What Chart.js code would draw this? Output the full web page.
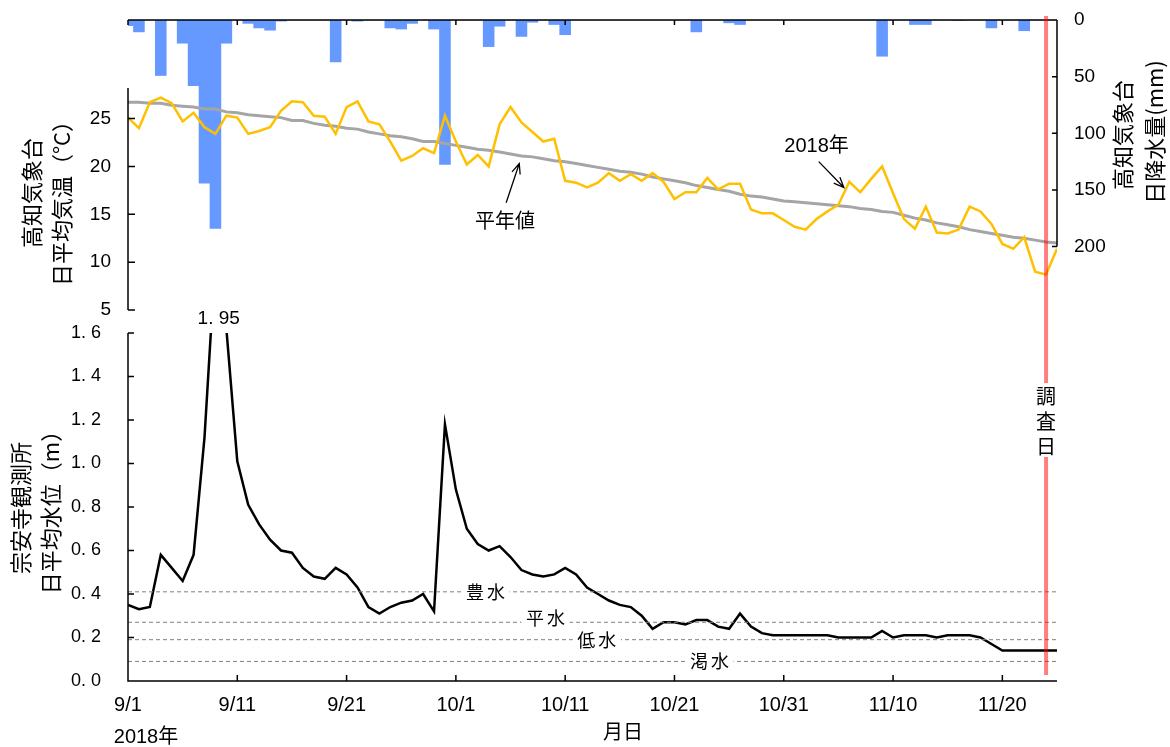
<!DOCTYPE html>
<html>
<head>
<meta charset="utf-8">
<script src="https://cdn.jsdelivr.net/npm/chart.js@4"></script>
<style>
  body { margin: 0; background: #fff; }
  #wrap { position: relative; width: 1170px; height: 747px; }
  canvas { position: absolute; left: 0; top: 0; }
</style>
</head>
<body>
<div id="wrap">
  <canvas id="upper" width="1170" height="747"></canvas>
  <canvas id="lower" width="1170" height="747"></canvas>
</div>
<script>
// 2018/9/1 = 0 ... 11/25 = 85
const tickLabels = ['9/1', '9/11', '9/21', '10/1', '10/11', '10/21', '10/31', '11/10', '11/20'];

// 高知気象台 日降水量 (mm)
const rain = [
  5, 10.5, 0, 49, 0, 20.5, 58, 144, 184, 20.5,
  0, 3, 7, 9, 1, 0, 0, 0, 0, 37,
  0, 1, 0, 0, 7, 8, 3, 0, 8, 127.5,
  0, 0, 0, 23.5, 5.5, 0, 14.5, 2, 0, 4,
  13, 0, 0, 0, 0, 0, 0, 0, 0, 0,
  0, 0, 10.5, 0, 0, 2.5, 4, 0, 0, 0,
  0, 0, 0, 0, 0, 0, 0, 0, 0, 32,
  0, 0, 4, 4, 0, 0, 0.5, 0, 0, 7,
  0, 0, 9.5, 0, 0, 0
];

// 高知気象台 日平均気温 2018年 (°C)
const temp2018 = [
  25.1, 24.0, 26.7, 27.2, 26.6, 24.7, 25.6, 24.1, 23.4, 25.3,
  25.1, 23.4, 23.7, 24.1, 25.8, 26.8, 26.7, 25.3, 25.2, 23.4,
  26.2, 26.8, 24.7, 24.4, 22.6, 20.6, 21.1, 21.9, 21.4, 25.3,
  22.6, 20.2, 21.2, 20.0, 24.4, 26.2, 24.6, 23.6, 22.6, 22.9,
  18.5, 18.3, 17.8, 18.3, 19.3, 18.5, 19.2, 18.5, 19.3, 18.4,
  16.6, 17.3, 17.3, 18.8, 17.6, 18.2, 18.2, 15.5, 15.1, 15.1,
  14.4, 13.7, 13.4, 14.5, 15.3, 16.0, 18.4, 17.3, 18.7, 20.0,
  17.2, 14.5, 13.5, 15.8, 13.1, 13.0, 13.4, 15.8, 15.3, 14.0,
  11.9, 11.4, 12.6, 9.0, 8.7, 11.4
];

// 平年値 (°C)
const tempNormal = [
  26.7, 26.7, 26.6, 26.6, 26.4, 26.3, 26.2, 26.0, 26.0, 25.7,
  25.6, 25.4, 25.3, 25.2, 25.1, 24.8, 24.8, 24.5, 24.3, 24.2,
  24.0, 23.9, 23.6, 23.4, 23.2, 23.1, 22.9, 22.6, 22.6, 22.4,
  22.2, 22.0, 21.8, 21.7, 21.5, 21.3, 21.1, 21.0, 20.8, 20.6,
  20.5, 20.3, 20.1, 19.9, 19.7, 19.5, 19.4, 19.2, 18.9, 18.7,
  18.5, 18.3, 18.0, 17.8, 17.6, 17.4, 17.1, 16.9, 16.8, 16.6,
  16.4, 16.3, 16.2, 16.1, 16.0, 15.9, 15.8, 15.6, 15.5, 15.3,
  15.2, 14.9, 14.6, 14.4, 14.1, 13.9, 13.7, 13.4, 13.2, 13.0,
  12.8, 12.6, 12.5, 12.3, 12.1, 12.0
];

// 宗安寺観測所 日平均水位 (m)
const waterLevel = [
  0.35, 0.33, 0.34, 0.58, 0.52, 0.46, 0.58, 1.12, 1.95, 1.62,
  1.01, 0.81, 0.72, 0.65, 0.60, 0.59, 0.52, 0.48, 0.47, 0.52,
  0.49, 0.43, 0.34, 0.31, 0.34, 0.36, 0.37, 0.40, 0.32, 1.18,
  0.88, 0.70, 0.63, 0.60, 0.62, 0.57, 0.51, 0.49, 0.48, 0.49,
  0.52, 0.49, 0.43, 0.40, 0.37, 0.35, 0.34, 0.30, 0.24, 0.27,
  0.27, 0.26, 0.28, 0.28, 0.25, 0.24, 0.31, 0.25, 0.22, 0.21,
  0.21, 0.21, 0.21, 0.21, 0.21, 0.20, 0.20, 0.20, 0.20, 0.23,
  0.20, 0.21, 0.21, 0.21, 0.20, 0.21, 0.21, 0.21, 0.20, 0.17,
  0.14, 0.14, 0.14, 0.14, 0.14, 0.14
];

const levelNames = ['豊水', '平水', '低水', '渇水'];
const levelValues = [0.41, 0.27, 0.19, 0.09];

const surveyDay = 84; // 11/24
const peakDay = 8;

const NUM = '"Liberation Sans", "Noto Sans CJK JP", sans-serif';
const JP = '"Noto Sans CJK JP", sans-serif';

const toXY = arr => arr.map((v, i) => ({ x: i, y: v }));
const dotted = v => v.replace('.', '. ');

function vText(ctx, text, x, y, font) {
  ctx.save();
  ctx.translate(x, y);
  ctx.rotate(-Math.PI / 2);
  ctx.font = font;
  ctx.fillStyle = '#000';
  ctx.textAlign = 'center';
  ctx.textBaseline = 'middle';
  ctx.fillText(text, 0, 0);
  ctx.restore();
}

function arrow(ctx, x1, y1, x2, y2) {
  const a = Math.atan2(y2 - y1, x2 - x1), h = 11;
  ctx.beginPath();
  ctx.moveTo(x1, y1);
  ctx.lineTo(x2, y2);
  ctx.moveTo(x2 - h * Math.cos(a - 0.4), y2 - h * Math.sin(a - 0.4));
  ctx.lineTo(x2, y2);
  ctx.lineTo(x2 - h * Math.cos(a + 0.4), y2 - h * Math.sin(a + 0.4));
  ctx.stroke();
}

function label(ctx, text, x, y, font) {
  ctx.font = font;
  ctx.fillStyle = '#000';
  ctx.textAlign = 'center';
  ctx.textBaseline = 'middle';
  ctx.fillText(text, x, y);
}

// 上段: 気温と降水量
const upperDecor = {
  id: 'upperDecor',
  afterDraw(chart) {
    const { ctx, chartArea: a, scales: { x, yT, yR } } = chart;
    ctx.save();
    ctx.strokeStyle = '#000';
    ctx.lineWidth = 1.5;
    // top line with ticks
    ctx.beginPath();
    ctx.moveTo(a.left, a.top);
    ctx.lineTo(a.right, a.top);
    for (let d = 0; d <= 80; d += 10) {
      const px = x.getPixelForValue(d);
      ctx.moveTo(px, a.top);
      ctx.lineTo(px, a.top + 5);
    }
    // left temperature axis
    ctx.moveTo(a.left, yT.getPixelForValue(28.2));
    ctx.lineTo(a.left, yT.getPixelForValue(5));
    for (let t = 5; t <= 25; t += 5) {
      const py = yT.getPixelForValue(t);
      ctx.moveTo(a.left, py);
      ctx.lineTo(a.left + 7, py);
    }
    // right rain axis
    ctx.moveTo(a.right, yR.getPixelForValue(0));
    ctx.lineTo(a.right, yR.getPixelForValue(200));
    for (let r = 0; r <= 200; r += 50) {
      const py = yR.getPixelForValue(r);
      ctx.moveTo(a.right, py);
      ctx.lineTo(a.right - 5, py);
    }
    ctx.stroke();

    // titles
    vText(ctx, '高知気象台', 32, 193, '22px ' + JP);
    vText(ctx, '日平均気温（°C）', 62, 198, '22px ' + JP);
    vText(ctx, '高知気象台', 1123, 135, '22px ' + JP);
    vText(ctx, '日降水量(mm)', 1155, 132, '22px ' + JP);

    // annotations
    ctx.lineWidth = 1.3;
    label(ctx, '平年値', x.getPixelForValue(34.5), yT.getPixelForValue(14.4), '20px ' + JP);
    arrow(ctx, x.getPixelForValue(34.6), yT.getPixelForValue(16.2),
               x.getPixelForValue(35.8), yT.getPixelForValue(20.3));
    label(ctx, '2018年', x.getPixelForValue(63.0), yT.getPixelForValue(22.1), '20px ' + NUM);
    arrow(ctx, x.getPixelForValue(63.2), yT.getPixelForValue(20.5),
               x.getPixelForValue(65.5), yT.getPixelForValue(17.8));
    ctx.restore();
  }
};

// 下段: 水位
const lowerDecor = {
  id: 'lowerDecor',
  afterDraw(chart) {
    const { ctx, chartArea: a, scales: { x, yW } } = chart;
    ctx.save();

    // level labels on dashed lines
    const spots = [[32.7, 0], [38.2, 0.02], [42.9, 0], [53.2, 0]];
    ctx.font = '18px ' + JP;
    ctx.letterSpacing = '3px';
    levelNames.forEach((name, i) => {
      const px = x.getPixelForValue(spots[i][0]);
      const py = yW.getPixelForValue(levelValues[i] + spots[i][1]);
      const w = ctx.measureText(name).width;
      ctx.fillStyle = '#fff';
      ctx.fillRect(px - w / 2 - 3, py - 10, w + 6, 20);
      ctx.fillStyle = '#000';
      ctx.textAlign = 'center';
      ctx.textBaseline = 'middle';
      ctx.fillText(name, px + 1.5, py);
    });
    ctx.letterSpacing = '0px';

    // survey day
    const sx = x.getPixelForValue(surveyDay);
    ctx.strokeStyle = 'rgba(255, 0, 0, 0.5)';
    ctx.lineWidth = 4;
    ctx.beginPath();
    ctx.moveTo(sx, 16);
    ctx.lineTo(sx, a.bottom - 6);
    ctx.stroke();
    ctx.fillStyle = '#fff';
    ctx.fillRect(sx - 12, 383, 24, 74);
    ['調', '査', '日'].forEach((c, i) => label(ctx, c, sx, 396 + i * 25, '20px ' + JP));

    // peak value
    label(ctx, dotted(waterLevel[peakDay].toFixed(2)), x.getPixelForValue(peakDay + 0.3), a.top - 14, '19px ' + NUM);

    // axes
    ctx.strokeStyle = '#000';
    ctx.lineWidth = 1.5;
    ctx.beginPath();
    ctx.moveTo(a.left, yW.getPixelForValue(1.6));
    ctx.lineTo(a.left, a.bottom);
    ctx.lineTo(a.right, a.bottom);
    for (let i = 0; i <= 8; i++) {
      const py = yW.getPixelForValue(i * 0.2);
      ctx.moveTo(a.left, py);
      ctx.lineTo(a.left + 6, py);
    }
    for (let d = 10; d <= 80; d += 10) {
      const px = x.getPixelForValue(d);
      ctx.moveTo(px, a.bottom);
      ctx.lineTo(px, a.bottom - 6);
    }
    ctx.stroke();

    vText(ctx, '宗安寺観測所', 21, 508, '22px ' + JP);
    vText(ctx, '日平均水位（m）', 51, 507, '22px ' + JP);
    label(ctx, '月日', 623, 731, '20px ' + JP);
    label(ctx, '2018年', 146, 737, '20px ' + NUM);
    ctx.restore();
  }
};

const plainGrid = { display: false, drawTicks: false };
// keep tick padding from growing the plot margins
const fixWidth = w => s => { s.width = w; s.paddingTop = 0; s.paddingBottom = 0; };

new Chart(document.getElementById('upper'), {
  type: 'line',
  data: {
    datasets: [
      { type: 'line', data: toXY(temp2018), borderColor: '#ffc000', borderWidth: 2.5,
        pointRadius: 0, yAxisID: 'yT', order: 1 },
      { type: 'line', data: toXY(tempNormal), borderColor: '#a5a5a5', borderWidth: 3,
        pointRadius: 0, yAxisID: 'yT', order: 2 },
      { type: 'bar', data: toXY(rain), backgroundColor: '#6699ff', borderWidth: 0,
        barPercentage: 1, categoryPercentage: 1, yAxisID: 'yR', order: 3 }
    ]
  },
  options: {
    responsive: false,
    animation: false,
    events: [],
    layout: { padding: { top: 20, bottom: 437, left: 0, right: 0 } },
    plugins: { legend: { display: false }, tooltip: { enabled: false } },
    scales: {
      x: { type: 'linear', min: 0, max: 85, offset: false, display: false },
      yT: {
        type: 'linear', position: 'left', min: 5, max: 35.3,
        ticks: { stepSize: 5, padding: 17, color: '#000', font: { family: NUM, size: 19 } },
        grid: plainGrid, border: { display: false },
        afterBuildTicks: s => { s.ticks = s.ticks.filter(t => t.value <= 25); },
        afterFit: fixWidth(128)
      },
      yR: {
        type: 'linear', position: 'right', reverse: true, min: 0, max: 256,
        ticks: { stepSize: 50, padding: 17, color: '#000', font: { family: NUM, size: 19 } },
        grid: plainGrid, border: { display: false },
        afterBuildTicks: s => { s.ticks = s.ticks.filter(t => t.value <= 200); },
        afterFit: fixWidth(113)
      }
    }
  },
  plugins: [upperDecor]
});

new Chart(document.getElementById('lower'), {
  type: 'line',
  data: {
    datasets: [
      ...levelValues.map(v => ({
        data: [{ x: 0, y: v }, { x: 85, y: v }], borderColor: '#808080', borderWidth: 1,
        borderDash: [4, 3], pointRadius: 0, yAxisID: 'yW'
      })),
      { data: toXY(waterLevel), borderColor: '#000', borderWidth: 2.5, pointRadius: 0, yAxisID: 'yW' }
    ]
  },
  options: {
    responsive: false,
    animation: false,
    events: [],
    layout: { padding: { top: 333, bottom: 0, left: 0, right: 113 } },
    plugins: { legend: { display: false }, tooltip: { enabled: false } },
    scales: {
      x: {
        type: 'linear', min: 0, max: 85, offset: false,
        ticks: { stepSize: 10, padding: 12, maxRotation: 0, autoSkip: false, color: '#000',
                 font: { family: NUM, size: 20 }, callback: v => tickLabels[v / 10] },
        grid: plainGrid, border: { display: false },
        afterBuildTicks: s => { s.ticks = s.ticks.filter(t => t.value % 10 === 0 && t.value <= 80); },
        afterFit: s => { s.height = 66; }
      },
      yW: {
        type: 'linear', position: 'left', min: 0, max: 1.6,
        ticks: { stepSize: 0.2, padding: 27, color: '#000', font: { family: NUM, size: 18 },
                 callback: v => dotted(v.toFixed(1)) },
        grid: plainGrid, border: { display: false },
        afterFit: fixWidth(128)
      }
    }
  },
  plugins: [lowerDecor]
});
</script>
</body>
</html>
